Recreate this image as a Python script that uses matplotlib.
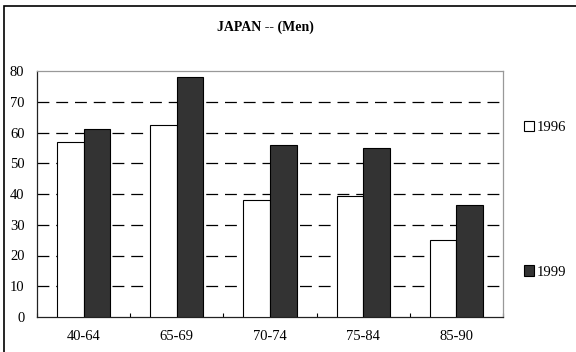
import numpy as np
import matplotlib.pyplot as plt
from matplotlib.patches import Rectangle, Patch

# datos por grupo de edad
grupos = ['40-64', '65-69', '70-74', '75-84', '85-90']
v1996 = [57, 62.5, 38, 39.5, 25]
v1999 = [61, 78, 56, 55, 36.5]
yticks = [0, 10, 20, 30, 40, 50, 60, 70, 80]

plt.rcParams['font.family'] = ['Liberation Serif', 'DejaVu Serif']

fig = plt.figure(figsize=(5.76, 3.52), dpi=100)
ax = fig.add_axes([37/576, 1-317/352, 466/576, 246/352])

x = np.arange(len(grupos))
w = 0.285
ax.bar(x - w/2, v1996, w, color='white', edgecolor='black', linewidth=0.8, zorder=3, label='1996')
ax.bar(x + w/2, v1999, w, color='#333333', edgecolor='black', linewidth=0.8, zorder=3, label='1999')

ax.set_xlim(-0.5, len(grupos) - 0.5)
ax.set_ylim(0, 80)
ax.set_yticks(yticks)
ax.set_yticklabels([str(t) for t in yticks], fontsize=10.5)
ax.tick_params(axis='y', length=0, pad=9)
for t in yticks[1:-1]:
    ax.axhline(t, color='black', linestyle=(0, (9.5, 5.5)), linewidth=0.9, zorder=1)

# marcas del eje x entre categorias, etiquetas centradas
ax.set_xticks(np.arange(len(grupos) + 1) - 0.5)
ax.set_xticklabels([])
ax.set_xticks(x, minor=True)
ax.set_xticklabels(grupos, minor=True, fontsize=10.5)
ax.tick_params(axis='x', which='major', direction='in', length=3, width=0.8)
ax.tick_params(axis='x', which='minor', length=0, pad=9)

ax.spines['left'].set_color('#222222')
ax.spines['bottom'].set_color('#222222')
ax.spines['top'].set_color('#999999')
ax.spines['right'].set_color('#999999')
for s in ax.spines.values():
    s.set_linewidth(0.9)

fig.text(265/576, 1-27/352, 'JAPAN -- (Men)', ha='center', va='center',
         fontsize=10, fontweight='bold')

h = [Patch(facecolor='white', edgecolor='black', linewidth=0.8),
     Patch(facecolor='#333333', edgecolor='black', linewidth=0.8)]
fig.legend(h, ['1996', '1999'], loc='upper left', bbox_to_anchor=(524/576, 1-121/352),
           frameon=False, fontsize=10.5, handlelength=0.7, handleheight=0.7,
           handletextpad=0.15, labelspacing=9.0, borderaxespad=0, borderpad=0)

# marco exterior
fig.patches.append(Rectangle((4/576, -0.1), 1.2, 1.1 - 6/352, transform=fig.transFigure,
                             fill=False, edgecolor='black', linewidth=1.2))

fig.savefig('out.png', dpi=100)
